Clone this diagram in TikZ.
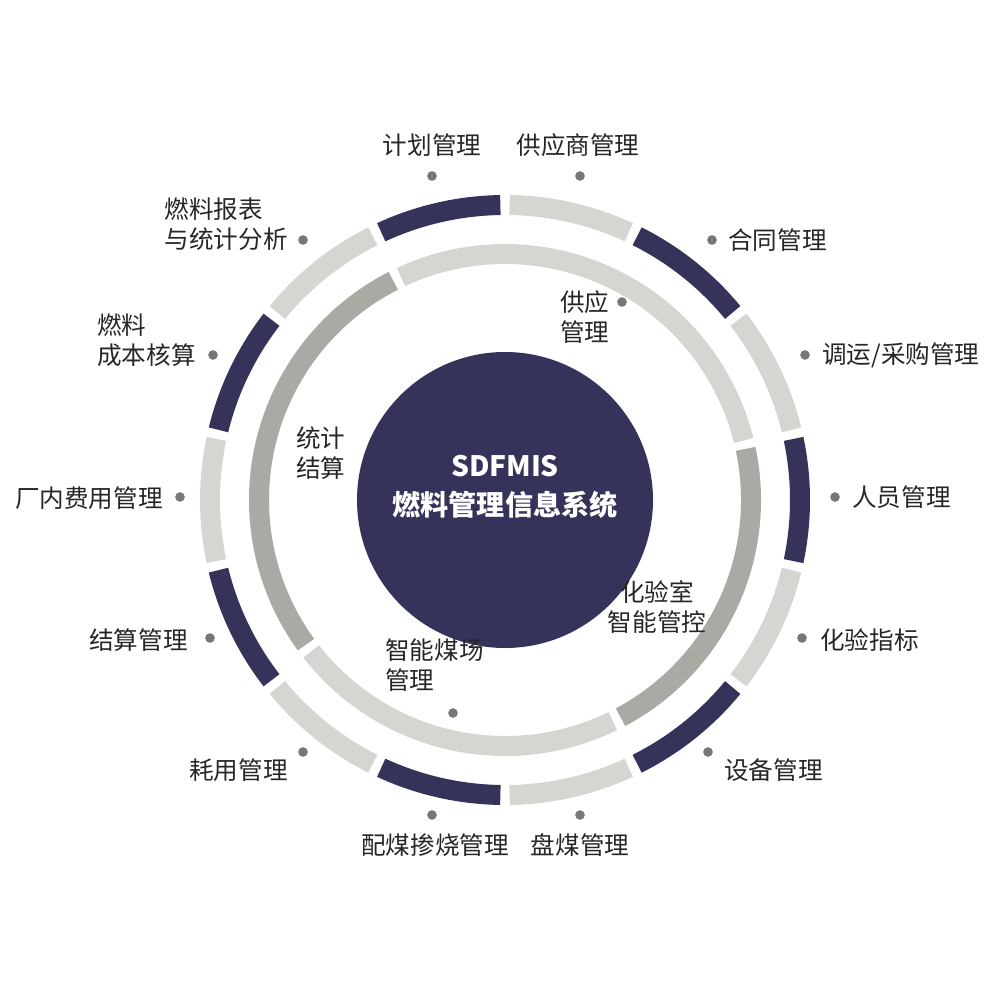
\documentclass[tikz,border=0pt]{standalone}
\usepackage{fontspec}
\setmainfont{Noto Sans CJK SC}
\usetikzlibrary{calc}
\definecolor{navy}{HTML}{36335A}
\definecolor{ringlight}{HTML}{D7D5D1}
\definecolor{ringdark}{HTML}{ABA9A4}
\definecolor{dotgray}{HTML}{777777}
\tikzset{
  lbl/.style={font=\fontsize{14}{17}\selectfont, text=black!85, inner sep=0pt, align=left},
  dotmark/.style={fill=dotgray, draw=none, circle, minimum size=5.5pt, inner sep=0pt},
}
\begin{document}
\begin{tikzpicture}[x=0.02cm,y=-0.02cm]
    \useasboundingbox (0,0) rectangle (1000,1000);
    \coordinate (O) at (505,500);

    % Outer ring, 14 segments (visual angles, y axis flipped)
    \foreach \k in {0,...,13}{
      \pgfmathsetmacro{\aone}{90-(\k+1)*360/14+0.9}
      \pgfmathsetmacro{\atwo}{90-\k*360/14-0.9}
      \pgfmathtruncatemacro{\odd}{mod(\k,2)}
      \ifnum\odd=1 \def\segcol{navy}\else\def\segcol{ringlight}\fi
      \draw[\segcol, line width=0.4cm] ($(O)+({295*cos(\aone)},{-295*sin(\aone)})$)
        arc[start angle=-\aone, end angle=-\atwo, radius=295];
    }

    % Inner ring
    \foreach \aone/\atwo/\segcol in {14/115/ringlight, -62/12/ringdark, 218/296/ringlight, 117/216/ringdark}{
      \draw[\segcol, line width=0.4cm] ($(O)+({246*cos(\aone)},{-246*sin(\aone)})$)
        arc[start angle=-\aone, end angle=-\atwo, radius=246];
    }

    % Centre
    \fill[navy] (O) circle (148);
    \node[text=white, font=\bfseries\fontsize{16}{19}\selectfont, align=center] (core) at (505,487)
      {SDFMIS\\[3pt]燃料管理信息系统};

    % Outer labels
    \node[lbl] (plan) at (432,145) {计划管理};
    \node[dotmark] at (432,176) {};
    \node[lbl] (supplier) at (578,145) {供应商管理};
    \node[dotmark] at (580,176) {};
    \node[lbl, anchor=east] (report) at (288,224) {燃料报表\\与统计分析};
    \node[dotmark] at (303,240) {};
    \node[lbl, anchor=west] (contract) at (728,240) {合同管理};
    \node[dotmark] at (712,240) {};
    \node[lbl, anchor=east] (cost) at (196,340) {燃料\\成本核算};
    \node[dotmark] at (213,355) {};
    \node[lbl, anchor=west] (transport) at (822,355) {调运/采购管理};
    \node[dotmark] at (805,355) {};
    \node[lbl, anchor=east] (fee) at (163,498) {厂内费用管理};
    \node[dotmark] at (180,497) {};
    \node[lbl, anchor=west] (staff) at (852,497) {人员管理};
    \node[dotmark] at (835,497) {};
    \node[lbl, anchor=east] (settle) at (188,640) {结算管理};
    \node[dotmark] at (210,638) {};
    \node[lbl, anchor=west] (assay) at (820,640) {化验指标};
    \node[dotmark] at (802,638) {};
    \node[lbl, anchor=east] (usage) at (288,770) {耗用管理};
    \node[dotmark] at (303,752) {};
    \node[lbl, anchor=west] (device) at (724,770) {设备管理};
    \node[dotmark] at (708,752) {};
    \node[lbl] (blend) at (435,845) {配煤掺烧管理};
    \node[dotmark] at (432,815) {};
    \node[lbl] (stock) at (580,845) {盘煤管理};
    \node[dotmark] at (580,815) {};

    % Inner labels
    \node[lbl, anchor=west] (supply) at (560,317) {供应\\管理};
    \node[dotmark] at (622,302) {};
    \node[lbl, anchor=west] (stat) at (296,453) {统计\\结算};
    \node[lbl, align=center] (lab) at (657,607) {化验室\\智能管控};
    \node[lbl, anchor=west] (yard) at (385,665) {智能煤场\\管理};
    \node[dotmark] at (453,713) {};
\end{tikzpicture}
\end{document}
